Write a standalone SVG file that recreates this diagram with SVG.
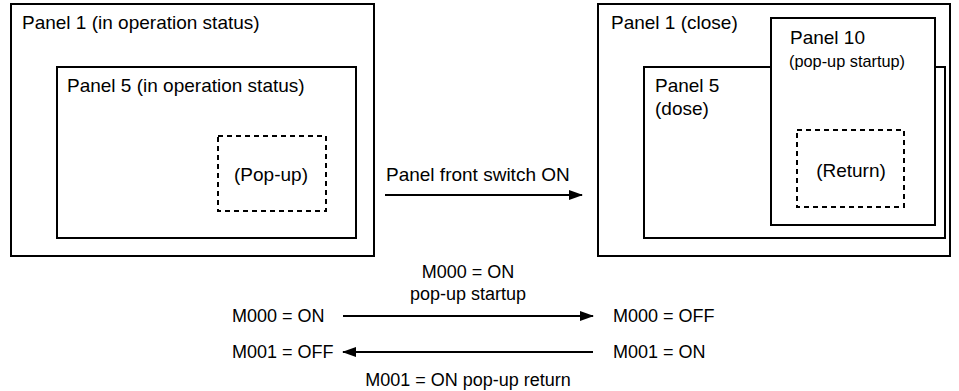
<svg xmlns="http://www.w3.org/2000/svg" width="959" height="391" viewBox="0 0 959 391">
<style>
.box{fill:#fff;stroke:#000;stroke-width:2}
.dash{fill:none;stroke:#000;stroke-width:2;stroke-dasharray:5,4}
.t{font-family:"Liberation Sans",Arial,sans-serif;font-size:19px;fill:#000}
.s{font-size:18px}
.c{text-anchor:middle}
.ln{stroke:#000;stroke-width:2;fill:none}
</style>
<defs>
<marker id="ah" markerWidth="14" markerHeight="10" refX="13" refY="5" orient="auto" markerUnits="userSpaceOnUse">
<path d="M0,0 L14,5 L0,10 Z" fill="#000"/>
</marker>
</defs>
<rect width="959" height="391" fill="#fff"/>
<g id="left-panel1">
<rect class="box" x="11" y="4" width="363" height="252"/>
<text class="t" x="22" y="29">Panel 1 (in operation status)</text>
</g>
<g id="left-panel5">
<rect class="box" x="57" y="67" width="299" height="171"/>
<text class="t" x="67" y="92">Panel 5 (in operation status)</text>
</g>
<g id="popup">
<rect class="dash" x="218" y="136" width="108" height="75"/>
<text class="t c" x="271" y="181">(Pop-up)</text>
</g>
<g id="right-panel1">
<rect class="box" x="598" y="4" width="352" height="252"/>
<text class="t" x="611" y="29">Panel 1 (close)</text>
</g>
<g id="right-panel5">
<rect class="box" x="644" y="67" width="301" height="171"/>
<text class="t" x="655" y="92">Panel 5</text>
<text class="t" x="655" y="115">(dose)</text>
</g>
<g id="panel10">
<rect class="box" x="771" y="18" width="164" height="207"/>
<text class="t" x="790" y="44">Panel 10</text>
<text class="t" x="789" y="67" style="font-size:17px" textLength="116" lengthAdjust="spacingAndGlyphs">(pop-up startup)</text>
</g>
<g id="return">
<rect class="dash" x="797" y="130" width="107" height="77"/>
<text class="t c" x="851" y="177">(Return)</text>
</g>
<g id="labels">
<text class="t" x="386" y="181">Panel front switch ON</text>
<text class="t s c" x="468" y="278">M000 = ON</text>
<text class="t s c" x="468" y="300">pop-up startup</text>
<text class="t s" x="232" y="322">M000 = ON</text>
<text class="t s" x="613" y="322">M000 = OFF</text>
<text class="t s" x="232" y="358">M001 = OFF</text>
<text class="t s" x="613" y="358">M001 = ON</text>
<text class="t s c" x="468" y="386">M001 = ON pop-up return</text>
</g>
<g id="connectors">
<line class="ln" x1="385" y1="195" x2="582" y2="195" marker-end="url(#ah)"/>
<line class="ln" x1="343" y1="316" x2="593" y2="316" marker-end="url(#ah)"/>
<line class="ln" x1="593" y1="352" x2="343" y2="352" marker-end="url(#ah)"/>
</g>
</svg>
